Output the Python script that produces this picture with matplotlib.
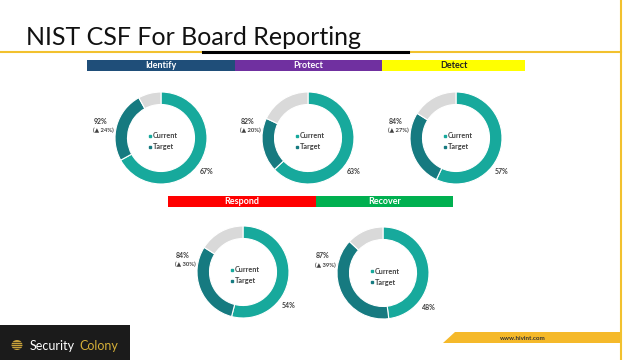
import matplotlib
matplotlib.use('Agg')
import matplotlib.pyplot as plt
from matplotlib.patches import Rectangle, Polygon, Ellipse

plt.rcParams['font.family'] = ['Lato', 'DejaVu Sans']

# data
categories = ['Identify', 'Protect', 'Detect', 'Respond', 'Recover']
current = [67, 63, 57, 54, 48]
target = [92, 82, 84, 84, 87]
delta = [24, 20, 27, 30, 39]
header_colors = ['#1F4E79', '#7030A0', '#FFFF00', '#FF0000', '#00B050']
header_text = ['white', 'white', '#222222', 'white', 'white']

# layout in pixels (y measured from top of slide)
W, H = 640, 360
centers = [(161, 138), (308, 138), (456, 138), (243, 272), (383, 273)]
headers = [(87, 235, 60), (235, 382, 60), (382, 525, 60), (168, 316, 196), (316, 453, 196)]
R, RING = 46, 12.5
c_cur, c_tgt, c_rest = '#17A99C', '#167A80', '#D9D9D9'
gold = '#F2C12E'

fig = plt.figure(figsize=(6.4, 3.6), dpi=100)
ax = fig.add_axes([0, 0, 1, 1])

def yy(y):
	return H - y

# title and rules
ax.text(26, yy(45), 'NIST CSF For Board Reporting', fontsize=18, color='#111111', va='baseline', ha='left')
ax.plot([0, 621], [yy(52), yy(52)], color=gold, lw=1.5)
ax.plot([203, 408], [yy(52), yy(52)], color='black', lw=2.2)
ax.plot([621, 621], [0, H], color=gold, lw=1.5)

# header bars
for (x0, x1, y0), name, col, tc in zip(headers, categories, header_colors, header_text):
	ax.add_patch(Rectangle((x0, yy(y0 + 11)), x1 - x0, 11, color=col, lw=0))
	ax.text((x0 + x1) / 2, yy(y0 + 5.5), name, ha='center', va='center', fontsize=6.5, fontweight='bold', color=tc)

# donuts
for (cx, cy), cur, tgt, d in zip(centers, current, target, delta):
	ax.pie([cur, tgt - cur, 100 - tgt], colors=[c_cur, c_tgt, c_rest], startangle=90, counterclock=False,
		center=(cx, yy(cy)), radius=R, wedgeprops=dict(width=RING, edgecolor='white', linewidth=0.8))
	ax.text(cx - 60, yy(cy - 17), '%d%%' % tgt, ha='center', va='center', fontsize=5, fontweight='bold', color='#404040')
	ax.text(cx - 58, yy(cy - 8), '(\u25b2 %d%%)' % d, ha='center', va='center', fontsize=4.2, fontweight='bold', color='#404040')
	ax.text(cx + 46, yy(cy + 34), '%d%%' % cur, ha='center', va='center', fontsize=5, fontweight='bold', color='#404040')
	# inner legend
	ax.plot(cx - 11, yy(cy - 2), 's', ms=2, color=c_cur)
	ax.text(cx - 8, yy(cy - 2), 'Current', ha='left', va='center', fontsize=5.2, fontweight='bold', color='#404040')
	ax.plot(cx - 11, yy(cy + 9), 's', ms=2, color=c_tgt)
	ax.text(cx - 8, yy(cy + 9), 'Target', ha='left', va='center', fontsize=5.2, fontweight='bold', color='#404040')

# footer
ax.add_patch(Rectangle((0, 0), 130, yy(325), color='#1B1B1B', lw=0))
ax.add_patch(Ellipse((17, yy(345)), 11, 10, color='#C9A23A', lw=0))
for k in range(4):
	ax.plot([11, 23], [yy(341.5 + 2.3 * k)] * 2, color='#1B1B1B', lw=0.5)
ax.text(30, yy(346), 'Security', ha='left', va='center', fontsize=9, color='white')
ax.text(79, yy(346), 'Colony', ha='left', va='center', fontsize=9, color='#D4AF37')
ax.add_patch(Polygon([(443, yy(343)), (455, yy(332)), (621, yy(332)), (621, yy(343))], closed=True, color='#F5B92A', lw=0))
ax.text(523, yy(338), 'www.hivint.com', ha='center', va='center', fontsize=4.5, fontweight='bold', color='#333333')

ax.set_xlim(0, W)
ax.set_ylim(0, H)
ax.set_aspect('auto')
ax.axis('off')
fig.savefig('out.png', dpi=100)
